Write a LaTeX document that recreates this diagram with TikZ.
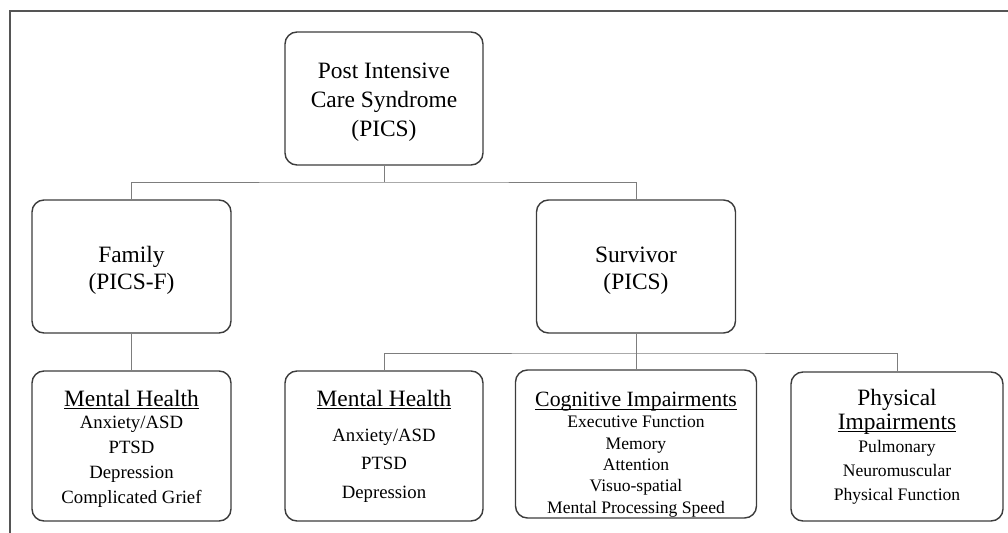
\documentclass[tikz,border=0pt]{standalone}
\usepackage{fontspec}
\setmainfont{Liberation Serif}
\usepackage{tikz}
\definecolor{boxgray}{RGB}{60,60,60}
\definecolor{linegray}{RGB}{125,125,125}
\definecolor{framegray}{RGB}{85,85,85}
\newcommand{\boxhead}[2][20]{{\fontsize{#1}{#1}\selectfont\setbox0\hbox{#2}\rlap{\rule[-2.4pt]{\wd0}{0.8pt}}\box0}}
\newcommand{\lift}[1]{\rule{0pt}{#1}}
\tikzset{%
    box/.style={%
        draw=boxgray, line width=1.2pt, rounded corners=0.36cm,
        align=center, inner sep=0pt
    },
    link/.style={draw=linegray, line width=0.8pt},
    frame/.style={draw=framegray, line width=1.6pt}
}

\begin{document}
\begin{tikzpicture}[x=0.03cm,y=-0.03cm]
\useasboundingbox (0,0) rectangle (1008,533);
\draw[frame] (10,533) -- (10,11) -- (1008,11);

\node[box, minimum width=5.94cm, minimum height=3.99cm, font=\fontsize{20}{24.7}\selectfont] (pics) at (384,98.5) {\lift{19pt}Post Intensive\\Care Syndrome\\(PICS)};

\node[box, minimum width=5.97cm, minimum height=3.99cm, font=\fontsize{20}{23}\selectfont] (fam) at (131.5,266.5) {\lift{20.5pt}Family\\(PICS-F)};
\node[box, minimum width=5.97cm, minimum height=3.99cm, font=\fontsize{20}{23}\selectfont] (surv) at (636,266.5) {\lift{20.5pt}Survivor\\(PICS)};

\node[box, minimum width=5.97cm, minimum height=4.5cm, font=\fontsize{16}{21.3}\selectfont] (mhf) at (131.5,446) {\lift{18.8pt}\boxhead{Mental Health}\\[-2.5pt]Anxiety/ASD\\PTSD\\Depression\\Complicated Grief};
\node[box, minimum width=5.94cm, minimum height=4.5cm, font=\fontsize{16}{24.3}\selectfont] (mhs) at (384,446) {\boxhead{Mental Health}\\[5.5pt]Anxiety/ASD\\PTSD\\Depression};
\node[box, minimum width=7.23cm, minimum height=4.44cm, font=\fontsize{15}{18.2}\selectfont] (cog) at (636,444) {\lift{30.6pt}\boxhead[18.6]{Cognitive Impairments}\\[-0.3pt]Executive Function\\Memory\\Attention\\Visuo-spatial\\Mental Processing Speed};
\node[box, minimum width=6.36cm, minimum height=4.47cm, font=\fontsize{15}{20.2}\selectfont] (phys) at (897,446.5) {{\fontsize{20}{20}\selectfont Physical}\\\boxhead{Impairments}\\Pulmonary\\Neuromuscular\\Physical Function};

\coordinate (top) at (384,182);
\coordinate (low) at (636,353);

\draw[link] (pics.south) -- (top);
\draw[link] (fam.north) |- (top) -| (surv.north);
\draw[link] (fam.south) -- (mhf.north);
\draw[link] (surv.south) -- (cog.north);
\draw[link] (mhs.north) |- (low) -| (phys.north);
\end{tikzpicture}
\end{document}
